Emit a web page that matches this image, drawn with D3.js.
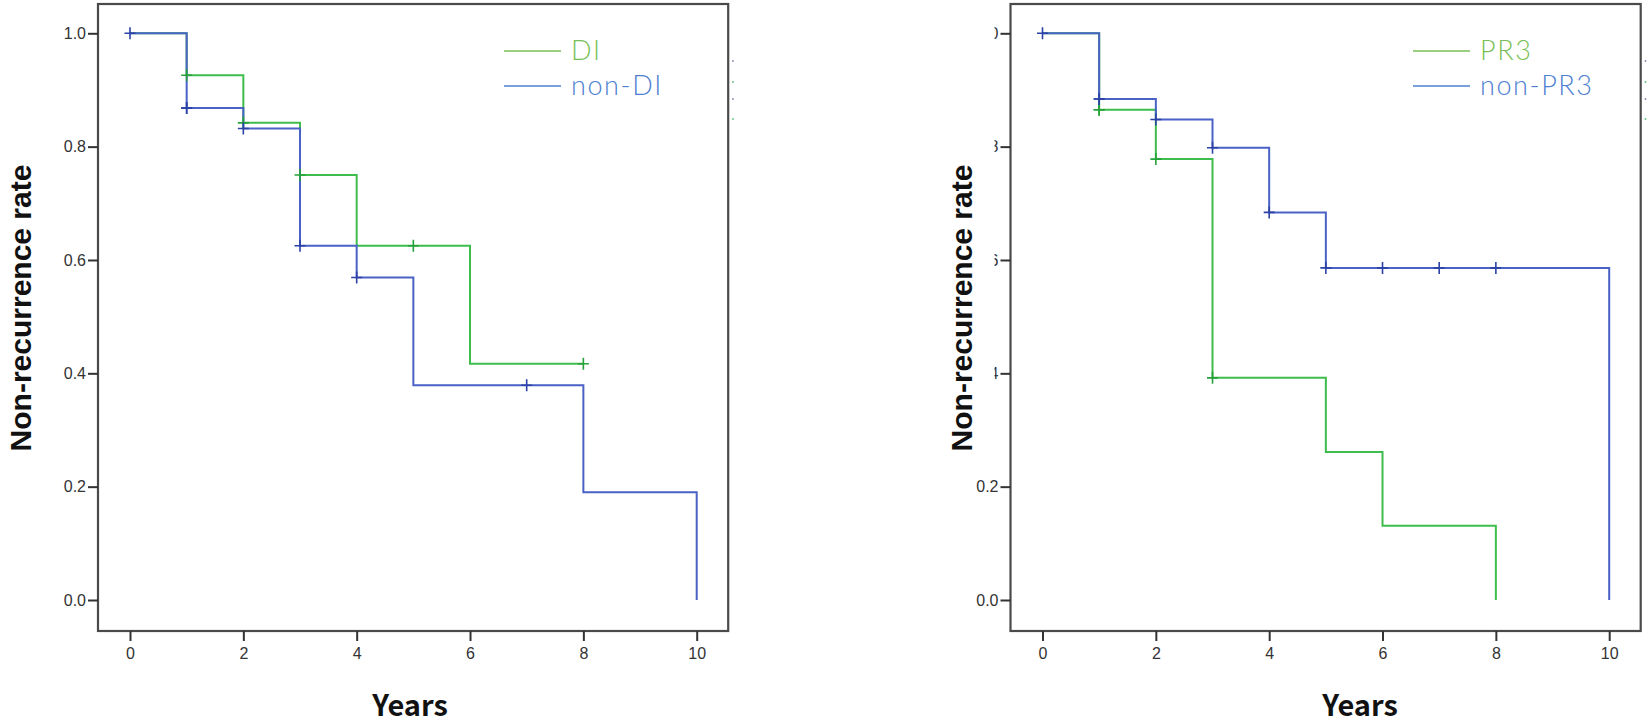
<!DOCTYPE html>
<html><head><meta charset="utf-8">
<script src="https://cdn.jsdelivr.net/npm/d3@7"></script>
<style>html,body{margin:0;padding:0;background:#fff}svg{display:block}</style>
</head><body>
<script>
// ---- data ----
const xTickValues = [0, 2, 4, 6, 8, 10];
const yTickValues = [0.0, 0.2, 0.4, 0.6, 0.8, 1.0];
const yTickLabels = ["0.0", "0.2", "0.4", "0.6", "0.8", "1.0"];

// Left panel: DI vs non-DI
const diTimes = [0, 1, 2, 3, 4, 6, 8];
const diSurv = [1.0, 0.926, 0.842, 0.75, 0.625, 0.417, 0.417];
const diCensorTimes = [1, 2, 3, 5, 8];
const diCensorSurv = [0.926, 0.842, 0.75, 0.625, 0.417];
const nonDiTimes = [0, 1, 2, 3, 4, 5, 8, 10];
const nonDiSurv = [1.0, 0.868, 0.832, 0.625, 0.569, 0.379, 0.19, 0.0];
const nonDiCensorTimes = [0, 1, 1, 2, 3, 4, 7];
const nonDiCensorSurv = [1.0, 0.868, 0.868, 0.832, 0.625, 0.569, 0.379];

// Right panel: PR3 vs non-PR3
const pr3Times = [0, 1, 2, 3, 5, 6, 8];
const pr3Surv = [1.0, 0.865, 0.778, 0.392, 0.261, 0.131, 0.0];
const pr3CensorTimes = [1, 1, 2, 3];
const pr3CensorSurv = [0.865, 0.865, 0.778, 0.392];
const nonPr3Times = [0, 1, 2, 3, 4, 5, 10];
const nonPr3Surv = [1.0, 0.884, 0.848, 0.798, 0.684, 0.586, 0.0];
const nonPr3CensorTimes = [0, 1, 1, 2, 3, 4, 5, 6, 7, 8];
const nonPr3CensorSurv = [1.0, 0.884, 0.884, 0.848, 0.798, 0.684, 0.586, 0.586, 0.586, 0.586];

const legendLeft = ["DI", "non-DI"];
const legendRight = ["PR3", "non-PR3"];
const yTitle = "Non-recurrence rate";
const xTitle = "Years";

// ---- drawing ----
const W = 1650, H = 726;
const svg = d3.select("body").append("svg").attr("width", W).attr("height", H);

const GREEN = "#3fbd4c", BLUE = "#4a62c6";
const GREEN_MARK = "#27a23a", BLUE_MARK = "#2c42a6";
const LEG_GREEN = "#79bf57", LEG_BLUE = "#4d7fd2";

function panel(opt) {
  const x = d3.scaleLinear().domain([0, 10]).range([opt.x0, opt.x0 + 566.7]);
  const y = d3.scaleLinear().domain([0, 1]).range([600, 33.3]);
  const g = svg.append("g");
  const fL = opt.x0 - 32, fR = opt.x0 + 566.7 + 31.5, fT = 4, fB = 631;

  // clip for y tick labels (right panel crops some labels)
  const clipId = "clip" + opt.id;
  const cp = svg.append("defs").append("clipPath").attr("id", clipId).attr("clipPathUnits", "userSpaceOnUse");
  if (opt.cropLabels) {
    cp.append("rect").attr("x", fL - 16).attr("y", 0).attr("width", 100).attr("height", 470);
    cp.append("rect").attr("x", fL - 80).attr("y", 470).attr("width", 200).attr("height", 256);
  } else {
    cp.append("rect").attr("x", 0).attr("y", 0).attr("width", W).attr("height", H);
  }

  // frame
  g.append("rect").attr("x", fL).attr("y", fT).attr("width", fR - fL).attr("height", fB - fT)
    .attr("fill", "none").attr("stroke", "#4a4a4a").attr("stroke-width", 2.2);

  // y axis ticks
  const yAxis = d3.axisLeft(y).tickValues(yTickValues).tickSize(10).tickPadding(2)
    .tickFormat((d, i) => yTickLabels[i]);
  const ya = g.append("g").attr("transform", `translate(${fL},0)`).call(yAxis);
  ya.select(".domain").remove();
  ya.selectAll(".tick line").attr("stroke", "#333").attr("stroke-width", 2);
  // re-draw labels in root coords so they can be clipped
  const clipG = svg.append("g").attr("clip-path", `url(#${clipId})`);
  ya.selectAll(".tick").each(function (d, i) {
    const ty = y(d);
    clipG.append("text").text(yTickLabels[i])
      .attr("x", fL - 12).attr("y", ty).attr("dy", "0.36em").attr("text-anchor", "end")
      .attr("font-family", "'Liberation Sans', Arial, sans-serif").attr("font-size", 16).attr("fill", "#333");
    d3.select(this).select("text").remove();
  });

  // x axis
  const xAxis = d3.axisBottom(x).tickValues(xTickValues).tickSize(10).tickPadding(7).tickFormat(d3.format("d"));
  const xa = g.append("g").attr("transform", `translate(0,${fB})`).call(xAxis);
  xa.select(".domain").remove();
  xa.selectAll(".tick line").attr("stroke", "#333").attr("stroke-width", 2);
  xa.selectAll(".tick text").attr("font-family", "'Liberation Sans', Arial, sans-serif")
    .attr("font-size", 16).attr("fill", "#333");

  // curves
  const line = d3.line().x(d => x(d[0])).y(d => y(d[1])).curve(d3.curveStepAfter);
  opt.series.forEach(s => {
    const pts = s.times.map((t, i) => [t, s.surv[i]]);
    g.append("path").attr("d", line(pts)).attr("fill", "none")
      .attr("stroke", s.color).attr("stroke-width", 2);
  });
  opt.series.forEach(s => {
    const cps = s.ct.map((t, i) => [t, s.cs[i]]);
    g.selectAll(null).data(cps).enter().append("path")
      .attr("d", d => {
        const cx = x(d[0]), cy = y(d[1]);
        return `M${cx - 5.5},${cy}H${cx + 5.5}M${cx},${cy - 6}V${cy + 6}`;
      })
      .attr("stroke", s.mark).attr("stroke-width", 1.6).attr("fill", "none");
  });

  // legend
  opt.legend.forEach((lab, i) => {
    const ly = 51 + i * 35;
    g.append("line").attr("x1", opt.legX).attr("x2", opt.legX + 57).attr("y1", ly).attr("y2", ly)
      .attr("stroke", i === 0 ? LEG_GREEN : LEG_BLUE).attr("stroke-width", 1.5);
    g.append("text").text(lab).attr("x", opt.legX + 67).attr("y", ly + 9)
      .attr("font-family", "Lato, 'Open Sans', sans-serif").attr("font-weight", 300)
      .attr("font-size", 27).attr("letter-spacing", 1.6)
      .attr("fill", i === 0 ? LEG_GREEN : LEG_BLUE);
  });

  // stray legend remnants beside right frame
  [[61, "#8a93b8"], [82, "#6cc88a"], [99, "#8a93b8"], [119, "#6cc88a"]].forEach(p => {
    g.append("rect").attr("x", fR + 4).attr("y", p[0] - 1).attr("width", 1.5).attr("height", 2)
      .attr("fill", p[1]);
  });

  // titles
  g.append("text").text(yTitle)
    .attr("transform", `translate(${opt.yTitleX},308) rotate(-90)`)
    .attr("text-anchor", "middle")
    .attr("font-family", "'Liberation Sans', Arial, sans-serif").attr("font-weight", 700)
    .attr("font-size", 30).attr("fill", "#111");
  g.append("text").text(xTitle)
    .attr("x", opt.xTitleX).attr("y", 716).attr("text-anchor", "middle")
    .attr("font-family", "'Noto Sans CJK SC', 'Noto Sans', sans-serif").attr("font-weight", 700)
    .attr("font-size", 29).attr("fill", "#111");
}

panel({
  id: "L", x0: 130, cropLabels: false, legX: 504, yTitleX: 31, xTitleX: 410,
  legend: legendLeft,
  series: [
    { times: diTimes, surv: diSurv, ct: diCensorTimes, cs: diCensorSurv, color: GREEN, mark: GREEN_MARK },
    { times: nonDiTimes, surv: nonDiSurv, ct: nonDiCensorTimes, cs: nonDiCensorSurv, color: BLUE, mark: BLUE_MARK }
  ]
});
panel({
  id: "R", x0: 1042.5, cropLabels: true, legX: 1413, yTitleX: 972, xTitleX: 1360,
  legend: legendRight,
  series: [
    { times: pr3Times, surv: pr3Surv, ct: pr3CensorTimes, cs: pr3CensorSurv, color: GREEN, mark: GREEN_MARK },
    { times: nonPr3Times, surv: nonPr3Surv, ct: nonPr3CensorTimes, cs: nonPr3CensorSurv, color: BLUE, mark: BLUE_MARK }
  ]
});
</script>
</body></html>
